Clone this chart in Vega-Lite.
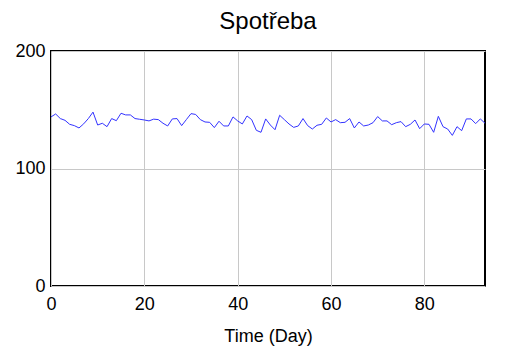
{
  "$schema": "https://vega.github.io/schema/vega-lite/v6.json",
  "width": 434,
  "height": 235,
  "autosize": {"type": "none"},
  "padding": {"left": 51, "top": 51, "right": 37, "bottom": 68},
  "background": "white",
  "title": {"text": "Spotřeba", "font": "Liberation Sans", "fontSize": 24, "fontWeight": "normal", "color": "black", "anchor": "middle", "baseline": "alphabetic", "offset": 0, "dy": 11},
  "config": {
    "view": {"stroke": "black", "strokeWidth": 2},
    "axis": {"labelFont": "Liberation Sans", "titleFont": "Liberation Sans", "labelFontSize": 18, "titleFontSize": 18, "labelColor": "black", "titleColor": "black", "titleFontWeight": "normal", "ticks": false, "domain": false, "gridColor": "#c8c8c8", "gridWidth": 1, "gridOpacity": 1}
  },
  "data": {"values": [
    {"day":0,"v":143.9},{"day":1,"v":146.4},{"day":2,"v":142.5},{"day":3,"v":141},{"day":4,"v":137.6},{"day":5,"v":136.5},{"day":6,"v":134.5},{"day":7,"v":138},{"day":8,"v":142.5},{"day":9,"v":148},
    {"day":10,"v":137},{"day":11,"v":138.5},{"day":12,"v":135.6},{"day":13,"v":142.5},{"day":14,"v":140.7},{"day":15,"v":147},{"day":16,"v":145.6},{"day":17,"v":145.6},{"day":18,"v":142.5},{"day":19,"v":141.9},
    {"day":20,"v":141.3},{"day":21,"v":140.5},{"day":22,"v":142},{"day":23,"v":141.6},{"day":24,"v":138.5},{"day":25,"v":136.2},{"day":26,"v":142.2},{"day":27,"v":142.5},{"day":28,"v":136.5},{"day":29,"v":141.6},
    {"day":30,"v":146.7},{"day":31,"v":146},{"day":32,"v":141.6},{"day":33,"v":139.6},{"day":34,"v":139.3},{"day":35,"v":134.8},{"day":36,"v":140.2},{"day":37,"v":136.2},{"day":38,"v":136.2},{"day":39,"v":143.9},
    {"day":40,"v":140.5},{"day":41,"v":137.9},{"day":42,"v":144.7},{"day":43,"v":141.6},{"day":44,"v":132.5},{"day":45,"v":130.8},{"day":46,"v":142.2},{"day":47,"v":137},{"day":48,"v":133},{"day":49,"v":145.3},
    {"day":50,"v":141.6},{"day":51,"v":137.9},{"day":52,"v":135},{"day":53,"v":136.2},{"day":54,"v":142.5},{"day":55,"v":136.5},{"day":56,"v":133.6},{"day":57,"v":136.8},{"day":58,"v":137.6},{"day":59,"v":143},
    {"day":60,"v":139.6},{"day":61,"v":141.6},{"day":62,"v":139},{"day":63,"v":139.3},{"day":64,"v":142.5},{"day":65,"v":134.5},{"day":66,"v":139.6},{"day":67,"v":136.2},{"day":68,"v":137},{"day":69,"v":139},
    {"day":70,"v":144.2},{"day":71,"v":140.5},{"day":72,"v":140.5},{"day":73,"v":137.3},{"day":74,"v":139},{"day":75,"v":139.9},{"day":76,"v":135.6},{"day":77,"v":137.6},{"day":78,"v":141.3},{"day":79,"v":133.9},
    {"day":80,"v":137.9},{"day":81,"v":137.6},{"day":82,"v":130.8},{"day":83,"v":144.4},{"day":84,"v":135.6},{"day":85,"v":133.6},{"day":86,"v":128.2},{"day":87,"v":135.6},{"day":88,"v":132.2},{"day":89,"v":142.2},
    {"day":90,"v":142.2},{"day":91,"v":138.2},{"day":92,"v":142.2},{"day":93,"v":138.5}
  ]},
  "mark": {"type": "line", "color": "#3333ff", "strokeWidth": 1, "clip": true},
  "encoding": {
    "x": {"field": "day", "type": "quantitative", "scale": {"domain": [0, 93], "nice": false}, "axis": {"values": [0, 20, 40, 60, 80], "title": "Time (Day)", "labelPadding": 9, "titlePadding": 14, "labelFlush": false}},
    "y": {"field": "v", "type": "quantitative", "scale": {"domain": [0, 200], "nice": false}, "axis": {"values": [0, 100, 200], "title": null, "labelPadding": 6}}
  }
}
